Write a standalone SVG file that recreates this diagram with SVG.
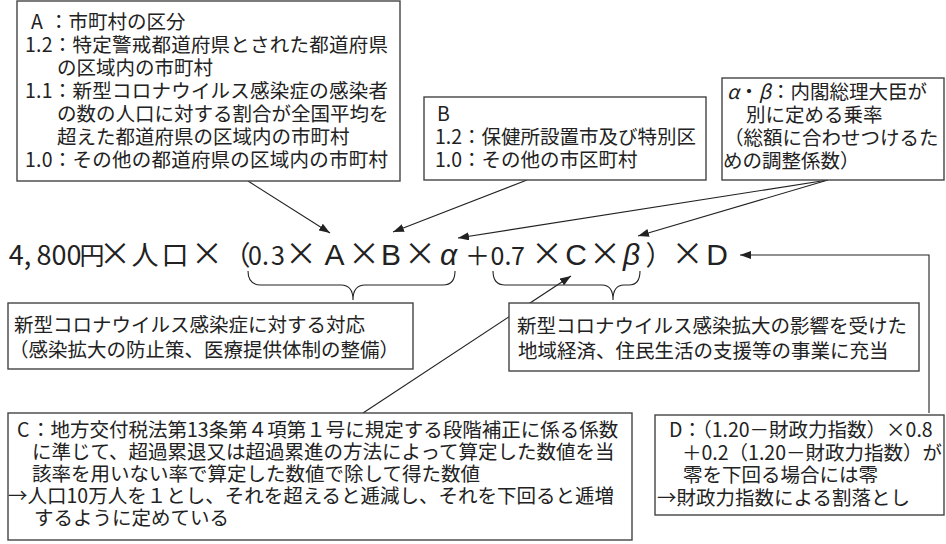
<svg xmlns="http://www.w3.org/2000/svg" width="946" height="544" viewBox="0 0 946 544">
<style>
.box{fill:#fff;stroke:#444;stroke-width:1.4}
.t{font-family:"Noto Sans CJK JP","Noto Sans",sans-serif;font-size:19.5px;fill:#222}
.f{font-family:"Noto Sans CJK JP","Noto Sans",sans-serif;fill:#222;text-anchor:middle;font-size:27px}
.x{font-size:32px}
.sm{font-size:25px}
.lat{font-family:"Liberation Sans",Arial,sans-serif;font-size:30px}
.gr{font-family:"Liberation Sans",Arial,sans-serif;font-size:30px;font-style:italic}
.conn{fill:none;stroke:#222;stroke-width:1.1}
.brace{fill:none;stroke:#222;stroke-width:1.1}
</style>
<defs>
<marker id="ah" markerWidth="11" markerHeight="8" refX="11" refY="4" orient="auto" markerUnits="userSpaceOnUse">
<path d="M0,0 L11,4 L0,8 z" fill="#222"/>
</marker>
</defs>
<rect width="946" height="544" fill="#fff"/>

<g id="connectors">
<path class="conn" d="M248,181 L330,233" marker-end="url(#ah)"/>
<path class="conn" d="M527,180 L393,232" marker-end="url(#ah)"/>
<path class="conn" d="M828,180 L458,238" marker-end="url(#ah)"/>
<path class="conn" d="M828,180 L638,236" marker-end="url(#ah)"/>
<path class="conn" d="M363,413 L571,276" marker-end="url(#ah)"/>
<path class="conn" d="M929,413 L929,255 L740,255" marker-end="url(#ah)"/>
<path class="brace" d="M248,271 Q248,285 261,285 L341,285 Q353,285 353,300 Q353,285 365,285 L443,285 Q455,285 455,271"/>
<path class="brace" d="M493,271 Q493,285 505,285 L602,285 Q613,285 613,300 Q613,285 624,285 L629,285 Q640,285 640,271"/>
</g>

<g id="box-A">
<rect class="box" x="17" y="1" width="383" height="180"/>
<text class="t" y="29"><tspan x="31">A</tspan><tspan x="49">：市町村の区分</tspan></text>
<text class="t" x="25" y="52" textLength="363" lengthAdjust="spacing">1.2：特定警戒都道府県とされた都道府県</text>
<text class="t" x="57" y="75">の区域内の市町村</text>
<text class="t" x="25" y="98" textLength="363" lengthAdjust="spacing">1.1：新型コロナウイルス感染症の感染者</text>
<text class="t" x="57" y="121">の数の人口に対する割合が全国平均を</text>
<text class="t" x="57" y="144">超えた都道府県の区域内の市町村</text>
<text class="t" x="25" y="167" textLength="363" lengthAdjust="spacing">1.0：その他の都道府県の区域内の市町村</text>
</g>

<g id="box-B">
<rect class="box" x="424" y="97" width="282" height="83"/>
<text class="t" x="437" y="121">B</text>
<text class="t" x="435" y="144">1.2：保健所設置市及び特別区</text>
<text class="t" x="435" y="167">1.0：その他の市区町村</text>
</g>

<g id="box-alpha-beta">
<rect class="box" x="722" y="78" width="222" height="102"/>
<text class="t" y="99"><tspan x="727" font-style="italic">α</tspan>・<tspan font-style="italic">β</tspan>：内閣総理大臣が</text>
<text class="t" x="746" y="122">別に定める乗率</text>
<text class="t" x="724" y="145">（総額に合わせつけるた</text>
<text class="t" x="723" y="168">めの調整係数）</text>
</g>

<g id="formula">
<text class="f" y="265"><tspan x="20">4,</tspan><tspan x="59">800</tspan><tspan x="92" font-size="25">円</tspan><tspan x="115" class="x">×</tspan><tspan x="145">人</tspan><tspan x="175">口</tspan><tspan x="207" class="x">×</tspan><tspan x="237">（</tspan><tspan x="258.5" class="sm">0.</tspan><tspan x="278" class="sm">3</tspan><tspan x="301" class="x">×</tspan><tspan x="334.5" class="lat">A</tspan><tspan x="364" class="x">×</tspan><tspan x="391" class="lat">B</tspan><tspan x="420" class="x">×</tspan><tspan x="448.5" class="gr">α</tspan><tspan x="477.5" font-size="25">＋</tspan><tspan x="501" class="sm">0.</tspan><tspan x="518" class="sm">7</tspan><tspan x="547" class="x">×</tspan><tspan x="576" class="lat">C</tspan><tspan x="605" class="x">×</tspan><tspan x="631.5" class="gr">β</tspan><tspan x="659">）</tspan><tspan x="687.5" class="x">×</tspan><tspan x="717" class="lat">D</tspan></text>
</g>

<g id="box-response-left">
<rect class="box" x="8" y="303" width="405" height="66"/>
<text class="t" x="14" y="332">新型コロナウイルス感染症に対する対応</text>
<text class="t" x="9" y="357">（感染拡大の防止策、医療提供体制の整備）</text>
</g>

<g id="box-response-right">
<rect class="box" x="509" y="303" width="410" height="68"/>
<text class="t" x="517" y="333">新型コロナウイルス感染拡大の影響を受けた</text>
<text class="t" x="518" y="358">地域経済、住民生活の支援等の事業に充当</text>
</g>

<g id="box-C">
<rect class="box" x="8" y="413" width="624" height="127"/>
<text class="t" y="437"><tspan x="17">C</tspan><tspan x="31">：地方交付税法第13条第４項第１号に規定する段階補正に係る係数</tspan></text>
<text class="t" x="32" y="459">に準じて、超過累退又は超過累進の方法によって算定した数値を当</text>
<text class="t" x="32" y="481">該率を用いない率で算定した数値で除して得た数値</text>
<text class="t" x="8" y="503">→人口10万人を１とし、それを超えると逓減し、それを下回ると逓増</text>
<text class="t" x="34" y="525">するように定めている</text>
</g>

<g id="box-D">
<rect class="box" x="655" y="415" width="289" height="100"/>
<text class="t" x="669" y="437">D：（1.20－財政力指数）×0.8</text>
<text class="t" x="682" y="460">＋0.2（1.20－財政力指数）が</text>
<text class="t" x="683" y="482">零を下回る場合には零</text>
<text class="t" x="657" y="505">→財政力指数による割落とし</text>
</g>
</svg>
